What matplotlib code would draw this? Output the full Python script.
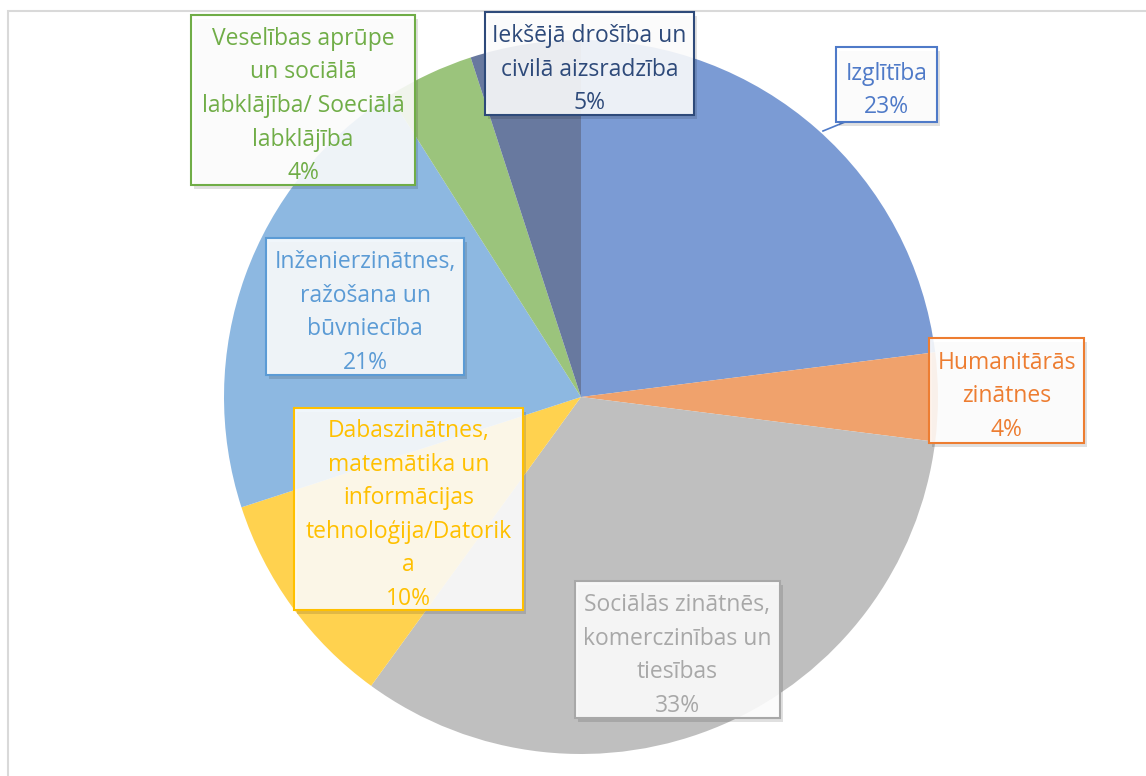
import matplotlib
matplotlib.use("Agg")
import matplotlib.pyplot as plt
from matplotlib.patches import Rectangle

# Daten
categories = ["Izglītība",
              "Humanitārās\nzinātnes",
              "Sociālās zinātnēs,\nkomerczinības un\ntiesības",
              "Dabaszinātnes,\nmatemātika un\ninformācijas\ntehnoloģija/Datorik\na",
              "Inženierzinātnes,\nražošana un\nbūvniecība",
              "Veselības aprūpe\nun sociālā\nlabklājība/ Soeciālā\nlabklājība",
              "Iekšējā drošība un\ncivilā aizsradzība"]
shares = [23, 4, 33, 10, 21, 4, 5]

slice_colors = ["#7b9bd4", "#f0a26c", "#bfbfbf", "#ffd24f", "#8db8e1", "#9bc47c", "#68799f"]
text_colors = ["#4f7ac8", "#ed7d31", "#a8a8a8", "#ffc000", "#5b9bd5", "#70ad47", "#2e4a7a"]

# Label-Boxen in Pixeln (x0, y0, x1, y1), y von oben
boxes = [(836, 47, 937, 122), (929, 338, 1084, 443), (575, 581, 780, 718),
         (294, 408, 523, 610), (266, 238, 464, 375), (191, 15, 415, 185),
         (485, 12, 694, 115)]

W, H = 1146, 776
fig = plt.figure(figsize=(W / 100, H / 100), dpi=100)
ax = fig.add_axes([0, 0, 1, 1])

# Kreisdiagramm
ax.pie(shares, colors=slice_colors, startangle=90, counterclock=False,
       center=(581, H - 397), radius=357, frame=True,
       wedgeprops=dict(linewidth=0))
ax.set_xlim(0, W)
ax.set_ylim(0, H)
ax.set_aspect("equal")
ax.axis("off")

# Rahmen des Diagrammbereichs
ax.add_patch(Rectangle((8, -20), W + 20, H - 11 + 20, fill=False, edgecolor="#d9d9d9", lw=1.5))

# Hinweislinie für Izglītība
ax.plot([823, 845], [H - 131, H - 122], color=text_colors[0], lw=1.2, zorder=4)

# Beschriftungen
total = sum(shares)
for cat, val, tc, (x0, y0, x1, y1) in zip(categories, shares, text_colors, boxes):
    ax.add_patch(Rectangle((x0 + 3, H - y1 - 4), x1 - x0, y1 - y0, facecolor="#000000",
                           alpha=0.12, edgecolor="none", zorder=4))
    ax.add_patch(Rectangle((x0, H - y1), x1 - x0, y1 - y0, facecolor=(1, 1, 1, 0.88),
                           edgecolor=tc, lw=1.5, zorder=5))
    pct = f"{round(val / total * 100)}%"
    ax.text((x0 + x1) / 2, H - (y0 + y1) / 2 - 6, cat + "\n" + pct, ha="center", va="center",
            color=tc, fontsize=16.5, family="Open Sans", linespacing=1.53, zorder=6)

fig.savefig("out.png", dpi=100)
